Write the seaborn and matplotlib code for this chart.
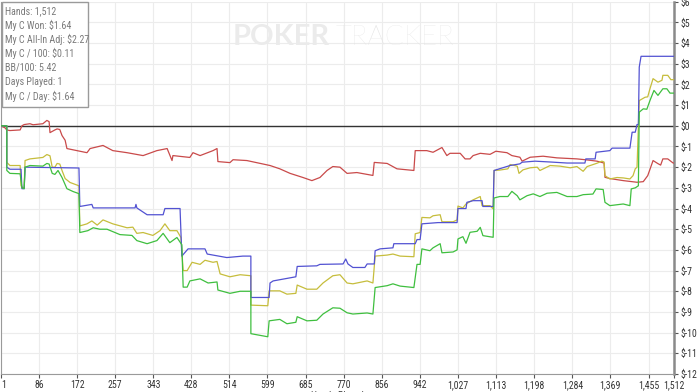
import numpy as np
import pandas as pd
import matplotlib
matplotlib.use("Agg")
import matplotlib.pyplot as plt
import matplotlib.patches as mpatches
from matplotlib import font_manager
import seaborn as sns

# Hand numbers and running totals ($)
blue_hands = [1, 14, 14, 21, 46, 48, 53, 55, 176, 178, 205, 208, 302, 304, 306, 329, 365, 369, 403, 407,
              421, 459, 464, 508, 544, 562, 562, 603, 605, 612, 663, 666, 710, 717, 769, 775, 780, 791,
              818, 823, 839, 841, 852, 881, 883, 931, 935, 942, 946, 982, 1025, 1027, 1045, 1047, 1061,
              1081, 1083, 1106, 1108, 1144, 1166, 1171, 1200, 1234, 1272, 1312, 1314, 1335, 1337, 1368,
              1373, 1413, 1418, 1425, 1429, 1432, 1434, 1438, 1512]
blue_vals = [0, 0, -2.0, -2.1, -2.1, -3.04, -3.04, -2.0, -2.04, -3.9, -3.8, -3.97, -3.97, -3.8, -3.97,
             -4.3, -4.3, -4.0, -4.0, -6.3, -5.95, -5.95, -6.2, -6.37, -6.3, -6.3, -8.3, -8.3, -7.6, -7.5,
             -7.3, -6.8, -6.77, -6.7, -6.68, -6.44, -6.68, -6.85, -6.85, -6.68, -6.68, -6.04, -5.95, -5.9,
             -5.7, -5.7, -5.5, -5.5, -4.74, -4.68, -4.68, -4.0, -4.0, -3.7, -3.62, -3.62, -3.9, -3.9,
             -2.16, -1.92, -1.84, -1.76, -1.71, -1.75, -1.8, -1.8, -1.6, -1.6, -1.28, -1.2, -1.08, -1.08,
             -0.31, -0.31, 0.06, 0.06, 2.84, 3.36, 3.36]

yellow_hands = [1, 14, 14, 21, 44, 46, 50, 53, 55, 66, 95, 104, 111, 116, 122, 127, 133, 138, 145, 156,
                176, 178, 194, 205, 217, 230, 252, 284, 297, 306, 320, 342, 358, 369, 380, 396, 405, 410,
                419, 430, 448, 459, 477, 486, 493, 515, 538, 562, 562, 600, 603, 627, 643, 663, 666, 688,
                710, 724, 746, 762, 778, 791, 823, 836, 841, 868, 881, 897, 928, 931, 942, 946, 964, 971,
                987, 991, 1016, 1025, 1027, 1038, 1045, 1061, 1077, 1081, 1099, 1106, 1108, 1121, 1139,
                1144, 1160, 1164, 1173, 1189, 1205, 1211, 1234, 1256, 1279, 1294, 1308, 1317, 1339, 1350,
                1355, 1357, 1368, 1384, 1398, 1413, 1420, 1425, 1429, 1434, 1447, 1453, 1458, 1465, 1476,
                1485, 1487, 1498, 1505, 1512]
yellow_vals = [0, 0, -1.77, -1.92, -1.92, -2.9, -3.0, -3.0, -1.68, -1.6, -1.53, -1.39, -1.45, -2.0, -2.0,
               -1.82, -1.85, -2.16, -2.55, -2.74, -2.9, -4.84, -4.74, -4.6, -4.8, -4.55, -4.74, -4.93,
               -4.9, -5.2, -5.16, -5.3, -5.07, -4.74, -5.07, -5.07, -5.4, -7.0, -7.0, -6.6, -6.7, -6.5,
               -6.6, -6.56, -7.16, -7.3, -7.2, -7.25, -8.67, -8.7, -7.98, -7.98, -8.14, -8.1, -7.7, -7.9,
               -7.9, -7.6, -7.25, -7.2, -7.6, -7.64, -7.5, -7.6, -6.3, -6.25, -6.2, -6.3, -6.33, -5.22,
               -5.16, -4.43, -4.45, -4.35, -4.3, -4.64, -4.64, -4.55, -3.88, -3.97, -3.78, -3.58, -3.42,
               -3.86, -3.86, -4.02, -2.16, -2.14, -2.08, -1.87, -1.95, -2.3, -2.13, -2.03, -2.0, -2.16,
               -1.92, -1.95, -2.03, -1.97, -2.2, -1.97, -1.81, -1.71, -1.75, -2.41, -2.57, -2.5, -2.52,
               -2.57, -2.41, -2.08, -2.0, 1.22, 1.38, 1.4, 1.79, 2.28, 2.11, 2.2, 2.44, 2.44, 2.23, 2.23]

green_hands = [1, 14, 14, 21, 44, 48, 53, 55, 66, 95, 104, 109, 116, 122, 129, 138, 149, 163, 176, 178,
               196, 208, 223, 239, 268, 295, 306, 329, 351, 365, 380, 396, 407, 410, 419, 425, 448, 466,
               486, 488, 515, 538, 562, 562, 600, 603, 627, 643, 663, 666, 688, 710, 724, 746, 762, 778,
               791, 823, 836, 841, 868, 881, 897, 928, 935, 942, 946, 964, 971, 987, 991, 1016, 1025,
               1027, 1038, 1045, 1054, 1070, 1077, 1083, 1106, 1108, 1121, 1139, 1148, 1160, 1166, 1182,
               1196, 1211, 1227, 1249, 1272, 1294, 1308, 1330, 1337, 1353, 1357, 1368, 1398, 1413, 1416,
               1425, 1432, 1434, 1443, 1451, 1458, 1467, 1476, 1487, 1496, 1503, 1512]
green_vals = [0, 0, -2.16, -2.3, -2.32, -3.0, -3.04, -2.0, -1.92, -1.95, -1.82, -1.85, -2.3, -2.35, -2.16,
              -2.5, -3.04, -3.18, -3.28, -5.16, -5.07, -4.93, -5.0, -5.0, -5.26, -5.3, -5.55, -5.7, -5.55,
              -5.2, -5.65, -5.4, -5.75, -7.8, -7.8, -7.5, -7.4, -7.6, -7.55, -7.94, -8.1, -8.0, -8.0,
              -10.05, -10.2, -9.43, -9.36, -9.57, -9.5, -9.23, -9.43, -9.4, -9.1, -8.8, -8.82, -9.04,
              -9.1, -9.05, -9.1, -7.82, -7.73, -7.64, -7.75, -7.82, -6.7, -6.7, -5.95, -6.04, -5.9, -5.7,
              -6.14, -6.1, -6.0, -5.47, -5.36, -5.68, -5.15, -5.1, -4.91, -5.31, -5.39, -3.49, -3.42,
              -3.42, -3.17, -3.38, -3.58, -3.38, -3.29, -3.42, -3.26, -3.22, -3.42, -3.42, -3.33, -3.3,
              -3.05, -3.08, -3.7, -3.86, -3.78, -3.86, -3.05, -3.0, -2.9, 0.66, 0.82, 0.8, 1.22, 1.71,
              1.47, 1.79, 1.79, 1.58, 1.58]

red_hands = [1, 10, 14, 21, 44, 48, 53, 66, 73, 95, 104, 109, 111, 122, 127, 133, 138, 145, 149, 194,
             201, 230, 252, 284, 320, 351, 374, 385, 387, 425, 432, 448, 477, 486, 488, 515, 522, 553,
             605, 627, 650, 679, 699, 717, 733, 746, 762, 778, 800, 836, 839, 868, 890, 928, 931, 957,
             971, 991, 1002, 1009, 1032, 1043, 1054, 1061, 1077, 1099, 1112, 1137, 1148, 1166, 1171,
             1189, 1218, 1249, 1294, 1317, 1339, 1355, 1357, 1368, 1398, 1429, 1443, 1453, 1465, 1476,
             1482, 1487, 1498, 1510, 1512]
red_vals = [0, -0.1, -0.2, -0.23, -0.2, 0.0, 0.06, 0.1, 0.05, 0.1, 0.26, 0.2, -0.33, -0.2, -0.15, -0.18,
            -0.47, -0.7, -1.1, -1.3, -1.1, -0.95, -1.2, -1.3, -1.44, -1.2, -1.1, -1.68, -1.44, -1.53,
            -1.3, -1.44, -1.2, -1.1, -1.73, -1.78, -1.64, -1.68, -1.92, -2.08, -2.3, -2.5, -2.65, -2.5,
            -2.16, -1.97, -2.0, -2.3, -2.26, -2.4, -1.77, -1.82, -2.08, -2.16, -1.2, -1.2, -1.28, -1.05,
            -1.44, -1.33, -1.33, -1.6, -1.6, -1.44, -1.33, -1.38, -1.23, -1.3, -1.44, -1.52, -1.71,
            -1.52, -1.47, -1.55, -1.6, -1.65, -1.71, -1.8, -2.49, -2.55, -2.65, -2.73, -2.7, -2.41,
            -1.68, -1.83, -1.9, -1.6, -1.6, -1.8, -1.8]

x_ticks = [1, 86, 172, 257, 343, 428, 514, 599, 685, 770, 856, 942, 1027, 1113, 1198, 1284, 1369, 1455, 1512]
y_ticks = list(range(-12, 7))

stats = ["Hands: 1,512", "My C Won: $1.64", "My C All-In Adj: $2.27", "My C / 100: $0.11",
         "BB/100: 5.42", "Days Played: 1", "My C / Day: $1.64"]

# long form table for seaborn
frames = []
for name, h, v in [("red", red_hands, red_vals), ("yellow", yellow_hands, yellow_vals),
                   ("blue", blue_hands, blue_vals), ("green", green_hands, green_vals)]:
    frames.append(pd.DataFrame({"hand": h, "won": v, "line": name}))
df = pd.concat(frames, ignore_index=True)

sns.set_style("white")

# the screenshot uses a narrow font, take a condensed face if there is one
installed = {f.name for f in font_manager.fontManager.ttflist}
narrow = None
for cand in ["Liberation Sans Narrow", "DejaVu Sans Condensed", "Roboto Condensed",
             "Open Sans Condensed", "Noto Sans Condensed", "Arial Narrow"]:
    if cand in installed:
        narrow = cand
        break
if narrow:
    plt.rcParams["font.family"] = [narrow, "DejaVu Sans"]
    tick_size, box_size = 7, 7.2
else:
    plt.rcParams["font.family"] = ["Liberation Sans", "DejaVu Sans"]
    tick_size, box_size = 6.3, 5.6

fig = plt.figure(figsize=(7, 3.92), dpi=100)
ax = fig.add_axes([1 / 700, 18 / 392, 673 / 700, 372.3 / 392])

palette = {"red": "#c94a4a", "yellow": "#c6bd3c", "blue": "#5252d2", "green": "#3fbf3f"}
sns.lineplot(data=df, x="hand", y="won", hue="line", palette=palette, estimator=None,
             sort=False, legend=False, linewidth=0.9, ax=ax, zorder=3)

ax.axhline(0, color="#333333", lw=1.0, zorder=2)

ax.set_xlim(1, 1512)
ax.set_ylim(-12, 6)
ax.set_xticks(x_ticks)
ax.set_xticklabels([f"{t:,}" for t in x_ticks])
ax.set_yticks(y_ticks)
ax.set_yticklabels(["$" + str(t) for t in y_ticks])
ax.yaxis.tick_right()
ax.tick_params(axis="both", labelsize=tick_size, colors="#555555", length=3, width=0.8,
               labelcolor="#333333", pad=1.5)
ax.tick_params(axis="x", bottom=True)
ax.tick_params(axis="y", right=True, left=False)
ax.grid(True, color="#ececec", lw=0.8, zorder=0)
ax.set_xlabel("")
ax.set_ylabel("")

ax.spines["top"].set_visible(False)
ax.spines["right"].set_color("#8a8a8a")
ax.spines["right"].set_linewidth(1.8)
ax.spines["left"].set_color("#9a9a9a")
ax.spines["bottom"].set_color("#9a9a9a")

# first tick label sits on the left edge, keep it from being cut off
fig.canvas.draw()
ax.xaxis.get_major_ticks()[0].label1.set_horizontalalignment("left")

# watermark
ax.text(0.344, 0.905, "POKER", transform=ax.transAxes, fontsize=21, fontweight="bold",
        color="#ebebeb", family=["Lato", "DejaVu Sans"], ha="left", va="center", zorder=1)
ax.text(0.497, 0.905, "TRACKER", transform=ax.transAxes, fontsize=20, fontweight="light",
        color="#e2e2e2", family=["Lato", "DejaVu Sans"], ha="left", va="center", zorder=1)

# stats box
box = mpatches.Rectangle((2 / 700, 1 - 107 / 392), 86 / 700, 105 / 392, transform=fig.transFigure,
                         facecolor="white", edgecolor="#9a9a9a", lw=1.0, zorder=10)
fig.add_artist(box)
for i, s in enumerate(stats):
    fig.text(5 / 700, 1 - (11 + i * 14.2) / 392, s, fontsize=box_size, color="#7a7a7a",
             va="center", ha="left", zorder=11)

fig.text(337 / 700, -0.009, "Hands Played", fontsize=7, color="#444444", ha="center", va="center")

fig.savefig("out.png", dpi=100)
